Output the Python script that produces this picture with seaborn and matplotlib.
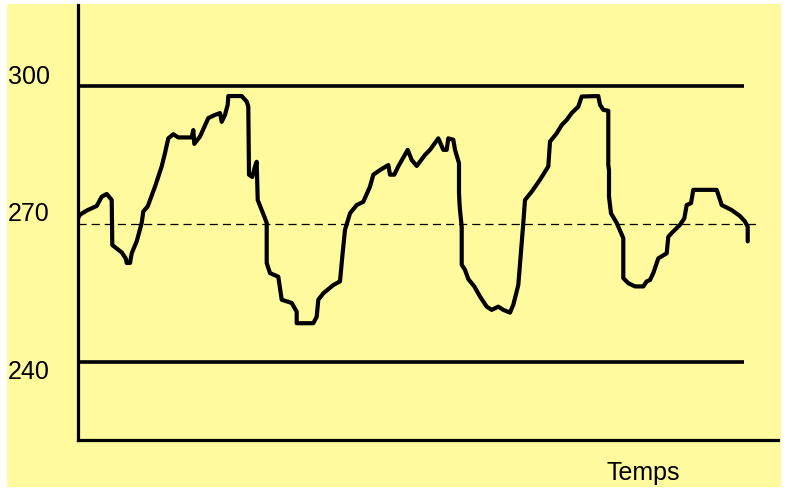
import pandas as pd
import numpy as np
import matplotlib.pyplot as plt
import seaborn as sns
from matplotlib.patches import Rectangle

# données (10 valeurs par ligne)
temps = [0, 2, 8.7, 18.7, 23.7, 28.7, 33.7, 34.3, 43.7, 47.7,
         48.7, 52, 53.7, 58.7, 63.7, 65.3, 69.7, 77, 83.7, 87,
         90.3, 95.3, 100.3, 113.7, 115.3, 116.3, 122, 130.3, 137, 142,
         143.7, 147, 149.7, 150.3, 163.7, 168.7, 170.3, 171, 174.3, 177,
         178.7, 179.7, 187, 188.7, 188.7, 192, 200.3, 203.7, 213.7, 218.7,
         218.7, 235.3, 238.7, 240.3, 245.3, 255.3, 262, 264.3, 267, 272,
         278.7, 285.3, 292, 295.3, 302, 310.3, 312, 316.3, 320.3, 329.7,
         333.7, 338.7, 347, 352, 360.3, 365.3, 368.7, 370.3, 375.3, 377,
         381, 381, 381.5, 382, 383.7, 383.7, 383.7, 387, 390.3, 396.3,
         402, 408.7, 413.7, 420.3, 425.3, 432, 435.3, 440.3, 443.7, 445.3,
         447, 453.7, 462, 470.3, 472, 478.7, 483.7, 488.7, 493.7, 500.3,
         503.7, 520.3, 522, 525.3, 530.3, 530.3, 530.3, 530.3, 530.3, 531,
         531, 533, 538.7, 545.3, 545.3, 545.3, 550.3, 557, 565.3, 568.7,
         572, 575.3, 580.3, 588.7, 590.3, 593.7, 602, 606.3, 608.7, 613,
         615.3, 638.7, 642, 643.7, 653.7, 662, 667, 669.7, 669.7]
niveau = [271.2, 272.0, 272.9, 273.9, 275.9, 276.5, 275.2, 265.4, 263.8, 262.5,
          261.5, 261.5, 263.6, 266.2, 270.2, 272.7, 273.8, 278.1, 282.5, 285.4,
          288.6, 289.5, 288.8, 288.8, 290.4, 287.4, 289.0, 293.0, 293.7, 294.1,
          292.2, 293.7, 295.9, 297.8, 297.8, 296.6, 295.5, 280.7, 280.2, 282.5,
          283.5, 275.2, 271.2, 270.2, 261.5, 259.3, 258.5, 253.5, 252.8, 250.9,
          248.4, 248.4, 249.8, 253.5, 254.9, 256.7, 257.5, 262.9, 268.7, 272.3,
          274.1, 274.8, 278.1, 280.7, 281.7, 282.8, 280.7, 280.7, 282.5, 286.1,
          283.9, 282.6, 285.0, 286.1, 288.6, 286.1, 286.1, 288.6, 288.3, 286.1,
          283.2, 276.7, 274.5, 273.0, 269.4, 268.0, 261.1, 260.0, 258.0, 256.4,
          254.2, 252.0, 251.3, 252.0, 251.3, 250.7, 252.4, 256.7, 265.8, 270.2,
          275.2, 277.0, 279.6, 282.5, 287.9, 289.7, 291.5, 292.6, 294.1, 295.5,
          297.7, 297.8, 295.9, 294.8, 294.6, 290.1, 288.6, 286.8, 282.8, 281.7,
          275.9, 272.3, 270.2, 266.9, 261.5, 258.2, 257.1, 256.4, 256.4, 257.5,
          257.8, 259.3, 262.5, 263.6, 267.2, 268.0, 269.8, 271.2, 274.1, 274.5,
          277.4, 277.4, 275.2, 274.1, 273.0, 271.7, 270.5, 269.4, 266.2]

limites = [300, 240]
moyenne = 270

df = pd.DataFrame({'Temps': temps, 'Niveau': niveau})

jaune = '#FFFA9E'
sns.set_style('white')
plt.rcParams['font.family'] = ['Liberation Sans', 'DejaVu Sans']

fig = plt.figure(figsize=(7.88, 4.96), dpi=100)
fig.patch.set_facecolor('white')
fig.add_artist(Rectangle((7 / 788, 9 / 496), 774 / 788, 483 / 496,
                         transform=fig.transFigure, facecolor=jaune,
                         edgecolor='none', zorder=0))

ax = fig.add_axes([78 / 788, 56 / 496, 700 / 788, 435 / 496])
ax.set_facecolor('none')

sns.lineplot(data=df, x='Temps', y='Niveau', estimator=None, sort=False,
             color='black', linewidth=3.0, ax=ax)

ax.hlines(limites, 0, 666, color='black', linewidth=2.6)
ax.hlines(moyenne, 0, 682, color='black', linewidth=0.9, linestyles=(0, (6.5, 4)))

ax.set_xlim(0, 700)
ax.set_ylim(223.0, 317.6)
ax.set_xticks([])
ax.set_yticks([])
ax.set_xlabel('')
ax.set_ylabel('')

for s in ['top', 'right']:
    ax.spines[s].set_visible(False)
for s in ['left', 'bottom']:
    ax.spines[s].set_linewidth(2.3)
    ax.spines[s].set_color('black')

for val, pos in [('300', 302.0), ('270', 272.2), ('240', 237.8)]:
    ax.text(-0.1, pos, val, transform=ax.get_yaxis_transform(),
            ha='left', va='center', fontsize=18, color='black')

fig.text(643 / 788, 16 / 496, 'Temps', ha='center', va='baseline',
         fontsize=18, color='black')

fig.savefig('out.png', dpi=100)
